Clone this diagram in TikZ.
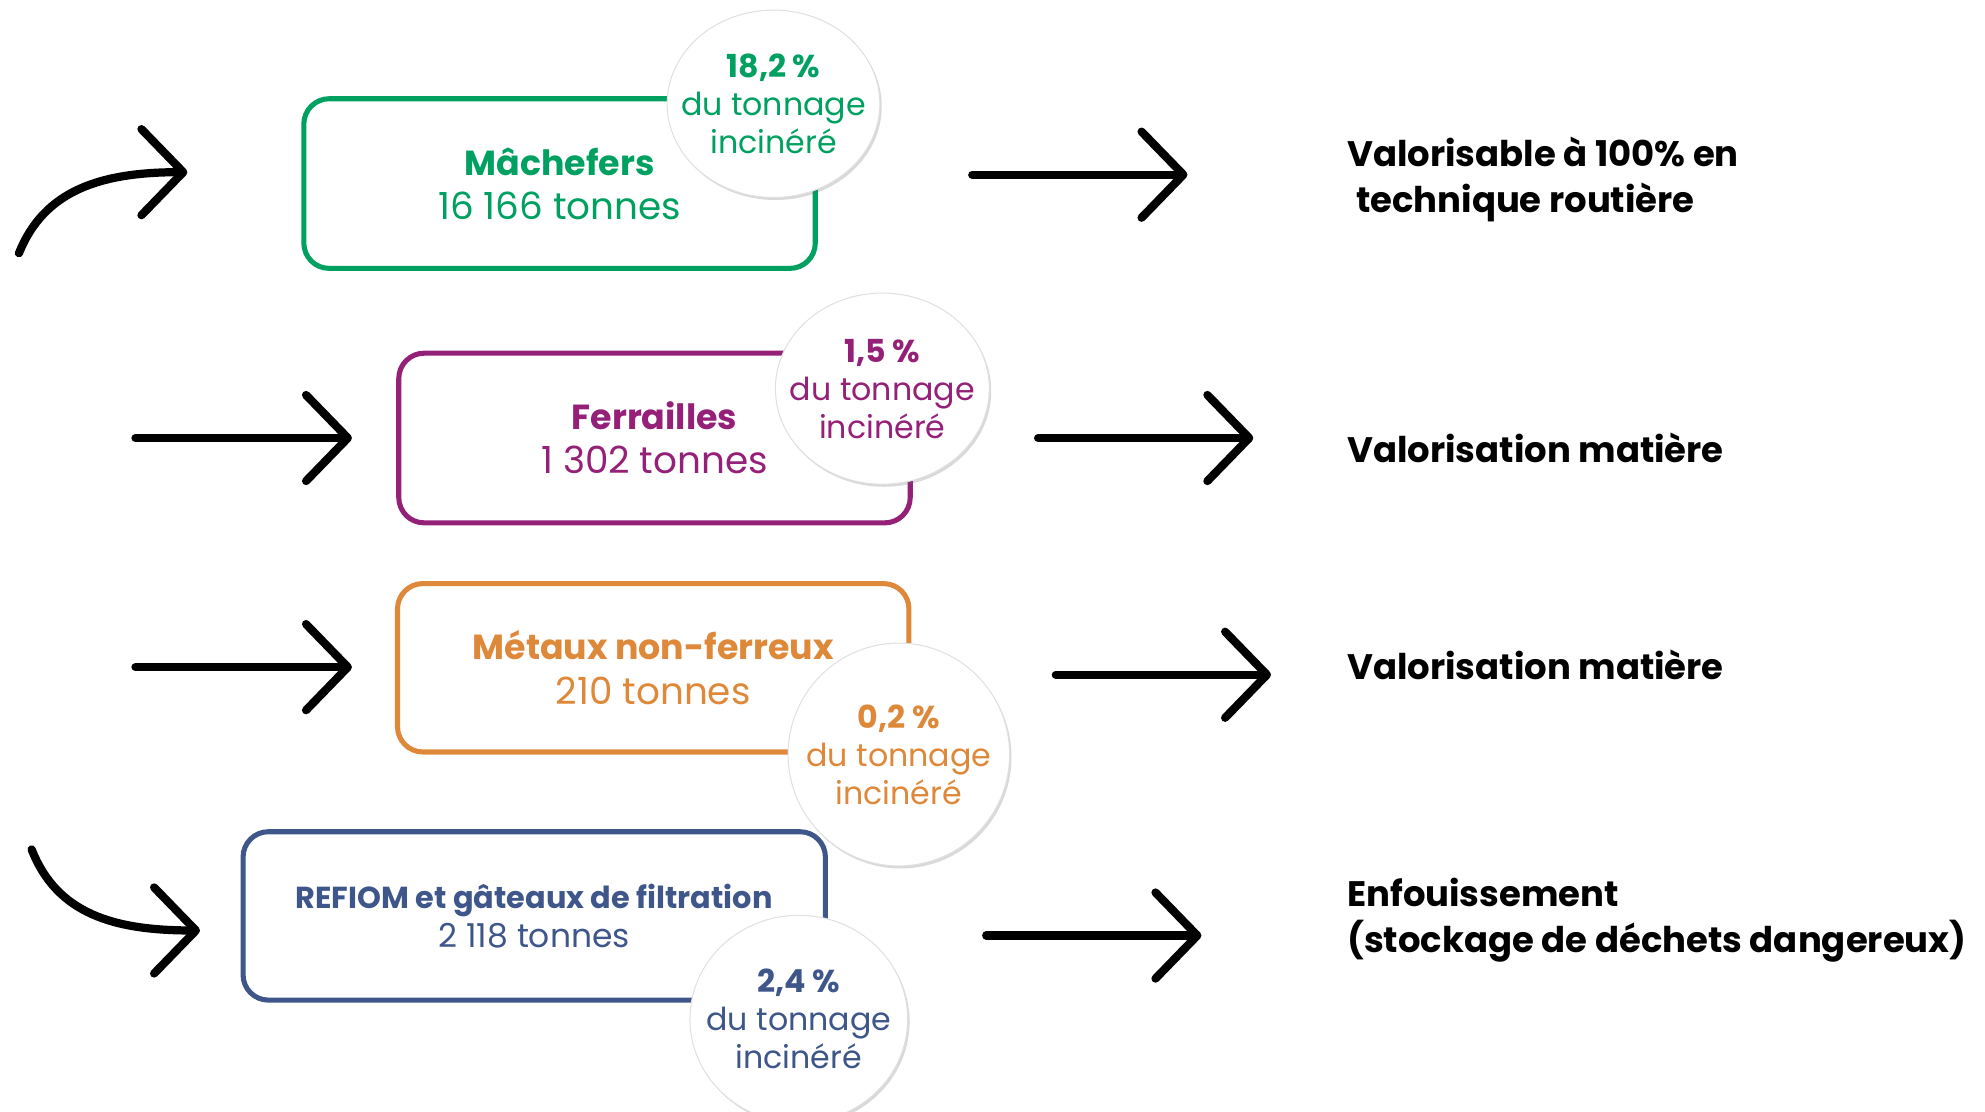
\documentclass[tikz,border=0pt]{standalone}
\usepackage{fontspec}
\setmainfont{Poppins}
\usetikzlibrary{shapes.geometric,arrows.meta,shadows}
\definecolor{cgreen}{RGB}{0,161,96}
\definecolor{cpurple}{RGB}{148,32,120}
\definecolor{corange}{RGB}{222,136,58}
\definecolor{cblue}{RGB}{62,86,138}
\newcommand{\boxtitle}[1]{{\fontsize{27.5}{35}\selectfont\bfseries #1}}
\begin{document}
\begin{tikzpicture}[x=1pt,y=-1pt,
  box/.style={draw, line width=4pt, rounded corners=20pt, minimum width=404pt,
    minimum height=134pt, inner sep=0pt, align=center,
    font=\fontsize{29.5}{35}\selectfont},
  pct/.style={ellipse, fill=white, draw=black!12, line width=0.8pt,
    inner xsep=-22pt, inner ysep=0pt,
    align=center, font=\fontsize{25}{30}\selectfont,
    drop shadow={shadow xshift=1.5pt, shadow yshift=-2pt, opacity=.25, fill=black!60}},
  arr/.style={line width=6.5pt, line cap=round,
    -{Straight Barb[length=33pt,width=68pt,round]}},
  outtext/.style={anchor=west, align=left, inner sep=0pt,
    font=\bfseries\fontsize{28}{36}\selectfont}
]
\useasboundingbox (0,0) rectangle (1568,878);

% boxes
\node[box, draw=cgreen, text=cgreen] (mach) at (442,145)
  {\boxtitle{Mâchefers}\\16 166 tonnes};
\node[box, draw=cpurple, text=cpurple] (ferr) at (517,346)
  {\boxtitle{Ferrailles}\\1 302 tonnes};
\node[box, draw=corange, text=corange, minimum height=133pt] (meta) at (516,527.5)
  {\boxtitle{Métaux non-ferreux}\\210 tonnes};
\node[box, draw=cblue, text=cblue, minimum width=460pt, minimum height=133pt,
  font=\fontsize{26}{31}\selectfont] (refi) at (422,723.5)
  {{\fontsize{24}{31}\selectfont\bfseries REFIOM et gâteaux de filtration}\\2 118 tonnes};

% percentage bubbles
\node[pct, text=cgreen, minimum width=168pt, minimum height=148pt] (pmach) at (611,82)
  {\textbf{18,2 \%}\\du tonnage\\incinéré};
\node[pct, text=cpurple, minimum width=169pt, minimum height=151pt] (pferr) at (697,307)
  {\textbf{1,5 \%}\\du tonnage\\incinéré};
\node[pct, text=corange, minimum width=175pt, minimum height=176pt] (pmeta) at (710,596)
  {\textbf{0,2 \%}\\du tonnage\\incinéré};
\node[pct, text=cblue, minimum width=172pt, minimum height=164pt] (prefi) at (631,805)
  {\textbf{2,4 \%}\\du tonnage\\incinéré};

% outcome texts
\node[outtext] (o1) at (1064,142) {Valorisable à 100\% en\\\hspace{0.25em}technique routière};
\node[outtext] (o2) at (1064,354) {Valorisation matière};
\node[outtext] (o3) at (1064,525) {Valorisation matière};
\node[outtext] (o4) at (1064,727) {Enfouissement\\(stockage de déchets dangereux)};

% incoming arrows
\coordinate (i1s) at (15,200);   \coordinate (i1e) at (148,136);
\coordinate (i2s) at (107,346);  \coordinate (i2e) at (278,346);
\coordinate (i3s) at (107,527);  \coordinate (i3e) at (278,527);
\coordinate (i4s) at (25,671);   \coordinate (i4e) at (158,735);
\draw[arr] (i1s) .. controls (35,150) and (80,136) .. (i1e);
\draw[arr] (i2s) -- (i2e);
\draw[arr] (i3s) -- (i3e);
\draw[arr] (i4s) .. controls (45,722) and (90,735) .. (i4e);

% outgoing arrows
\coordinate (r1s) at (768,138);  \coordinate (r1e) at (938,138);
\coordinate (r2s) at (820,346);  \coordinate (r2e) at (990,346);
\coordinate (r3s) at (834,533);  \coordinate (r3e) at (1004,533);
\coordinate (r4s) at (779,739);  \coordinate (r4e) at (949,739);
\draw[arr] (r1s) -- (r1e);
\draw[arr] (r2s) -- (r2e);
\draw[arr] (r3s) -- (r3e);
\draw[arr] (r4s) -- (r4e);
\end{tikzpicture}
\end{document}
